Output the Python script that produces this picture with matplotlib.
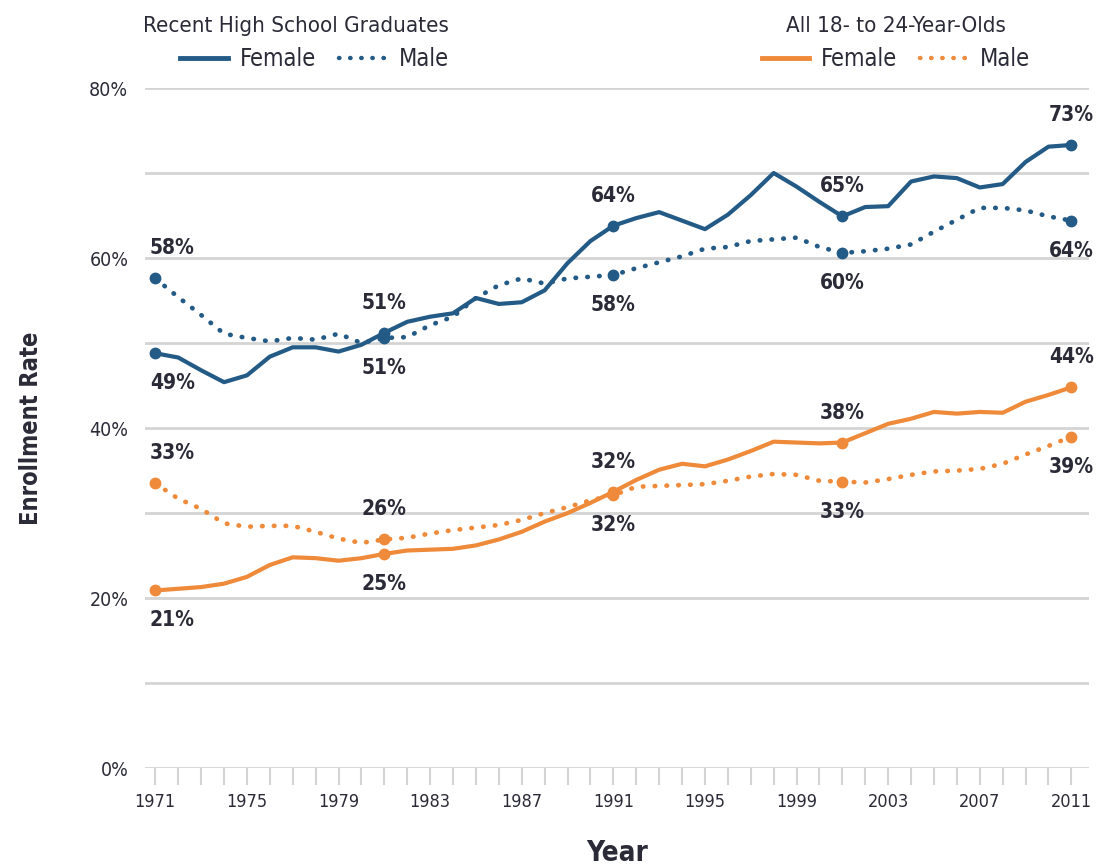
import matplotlib
matplotlib.use("Agg")
import matplotlib.pyplot as plt
from matplotlib.lines import Line2D

# data (percent enrolled)
years = list(range(1971, 2012))
female_hs = [48.8, 48.3, 46.8, 45.4, 46.2, 48.4, 49.5, 49.5, 49.0, 49.8,
             51.2, 52.5, 53.1, 53.5, 55.3, 54.6, 54.8, 56.2, 59.4, 62.0,
             63.8, 64.7, 65.4, 64.4, 63.4, 65.1, 67.4, 70.0, 68.4, 66.6,
             64.9, 66.0, 66.1, 69.0, 69.6, 69.4, 68.3, 68.7, 71.3, 73.1, 73.3]
male_hs = [57.6, 55.4, 53.3, 51.1, 50.6, 50.2, 50.6, 50.4, 51.1, 50.0,
           50.6, 50.7, 52.1, 53.1, 55.3, 56.8, 57.6, 57.0, 57.6, 57.8,
           58.0, 58.8, 59.5, 60.2, 61.1, 61.3, 62.0, 62.2, 62.4, 61.3,
           60.6, 60.8, 61.1, 61.6, 63.1, 64.5, 65.9, 65.9, 65.6, 64.9, 64.4]
female_all = [20.9, 21.1, 21.3, 21.7, 22.5, 23.9, 24.8, 24.7, 24.4, 24.7,
              25.2, 25.6, 25.7, 25.8, 26.2, 26.9, 27.8, 29.0, 30.0, 31.2,
              32.5, 33.9, 35.1, 35.8, 35.5, 36.3, 37.3, 38.4, 38.3, 38.2,
              38.3, 39.4, 40.5, 41.1, 41.9, 41.7, 41.9, 41.8, 43.1, 43.9, 44.8]
male_all = [33.5, 31.7, 30.5, 28.8, 28.4, 28.5, 28.5, 27.8, 27.0, 26.5,
            26.9, 27.1, 27.6, 28.0, 28.3, 28.6, 29.2, 30.0, 30.7, 31.5,
            32.1, 33.1, 33.2, 33.3, 33.4, 33.8, 34.3, 34.6, 34.5, 33.8,
            33.7, 33.6, 34.0, 34.5, 34.9, 35.0, 35.2, 35.8, 36.9, 37.9, 39.0]

marker_years = [1971, 1981, 1991, 2001, 2011]
label_fh = ["49%", "51%", "64%", "65%", "73%"]
label_mh = ["58%", "51%", "58%", "60%", "64%"]
label_fa = ["21%", "25%", "32%", "38%", "44%"]
label_ma = ["33%", "26%", "32%", "33%", "39%"]
# +1 = label above the point, -1 = below
side_fh = [-1, 1, 1, 1, 1]
side_mh = [1, -1, -1, -1, -1]
side_fa = [-1, -1, 1, 1, 1]
side_ma = [1, 1, -1, -1, -1]

BLUE = "#235b86"
ORANGE = "#ee8a3a"
TXT = "#2b2b38"
GRID = "#d4d4d4"
plt.rcParams["font.family"] = ["DejaVu Sans"]
plt.rcParams["font.stretch"] = "condensed"

fig = plt.figure(figsize=(11.01, 8.67), dpi=100)
ax = fig.add_axes([0.1317, 0.114, 0.857, 0.7845])

dots = (0, (0.1, 2.4))

def draw_series(vals, color, dotted, labels, sides):
    ls = dots if dotted else "-"
    lw = 3.4 if dotted else 3.0
    ax.plot(years, vals, color=color, lw=lw, ls=ls,
            dash_capstyle="round", solid_capstyle="round", zorder=3)
    for yr, lab, s in zip(marker_years, labels, sides):
        v = vals[years.index(yr)]
        ax.plot(yr, v, "o", color=color, ms=7.5, zorder=4)
        dx = 17 if yr == 1971 else 0
        ax.annotate(lab, (yr, v), xytext=(dx, 30 * s), textcoords="offset pixels",
                    ha="center", va="center", fontsize=15, fontweight="bold",
                    color=TXT)

draw_series(female_hs, BLUE, False, label_fh, side_fh)
draw_series(male_hs, BLUE, True, label_mh, side_mh)
draw_series(female_all, ORANGE, False, label_fa, side_fa)
draw_series(male_all, ORANGE, True, label_ma, side_ma)

ax.set_xlim(1970.55, 2011.75)
ax.set_ylim(0, 80)
for g in range(0, 81, 10):
    ax.axhline(g, color=GRID, lw=2.0, zorder=1)
ax.set_yticks([0, 20, 40, 60, 80])
ax.set_yticklabels(["0%", "20%", "40%", "60%", "80%"])
ax.set_xticks(list(range(1971, 2012, 4)))
ax.set_xticks(years, minor=True)
ax.tick_params(axis="y", length=0, pad=12, labelsize=14, labelcolor=TXT)
ax.tick_params(axis="x", which="both", length=12, width=1.5, color=GRID,
               labelsize=13, labelcolor=TXT, pad=6)
for sp in ax.spines.values():
    sp.set_visible(False)

ax.set_ylabel("Enrollment Rate", fontsize=17, fontweight="bold", color=TXT, labelpad=33)
ax.set_xlabel("Year", fontsize=20, fontweight="bold", color=TXT, labelpad=20)

def solid(c):
    return Line2D([], [], color=c, lw=3.5)

def dotted(c):
    return Line2D([], [], color=c, lw=3.2, ls=dots, dash_capstyle="round")

leg1 = ax.legend([solid(BLUE), dotted(BLUE)], ["Female", "Male"],
                 title="Recent High School Graduates", ncol=2, frameon=False,
                 loc="lower left", bbox_to_anchor=(-0.02, 1.0), fontsize=17,
                 title_fontsize=16, alignment="right", handlelength=2.0,
                 columnspacing=1.0, handletextpad=0.5, borderpad=0.2)
for t in leg1.get_texts():
    t.set_color(TXT)
leg1.get_title().set_color(TXT)
ax.add_artist(leg1)

leg2 = ax.legend([solid(ORANGE), dotted(ORANGE)], ["Female", "Male"],
                 title="All 18- to 24-Year-Olds", ncol=2, frameon=False,
                 loc="lower right", bbox_to_anchor=(0.955, 1.0), fontsize=17,
                 title_fontsize=16, alignment="center", handlelength=2.0,
                 columnspacing=1.0, handletextpad=0.5, borderpad=0.2)
for t in leg2.get_texts():
    t.set_color(TXT)
leg2.get_title().set_color(TXT)

fig.savefig("out.png", dpi=100)
